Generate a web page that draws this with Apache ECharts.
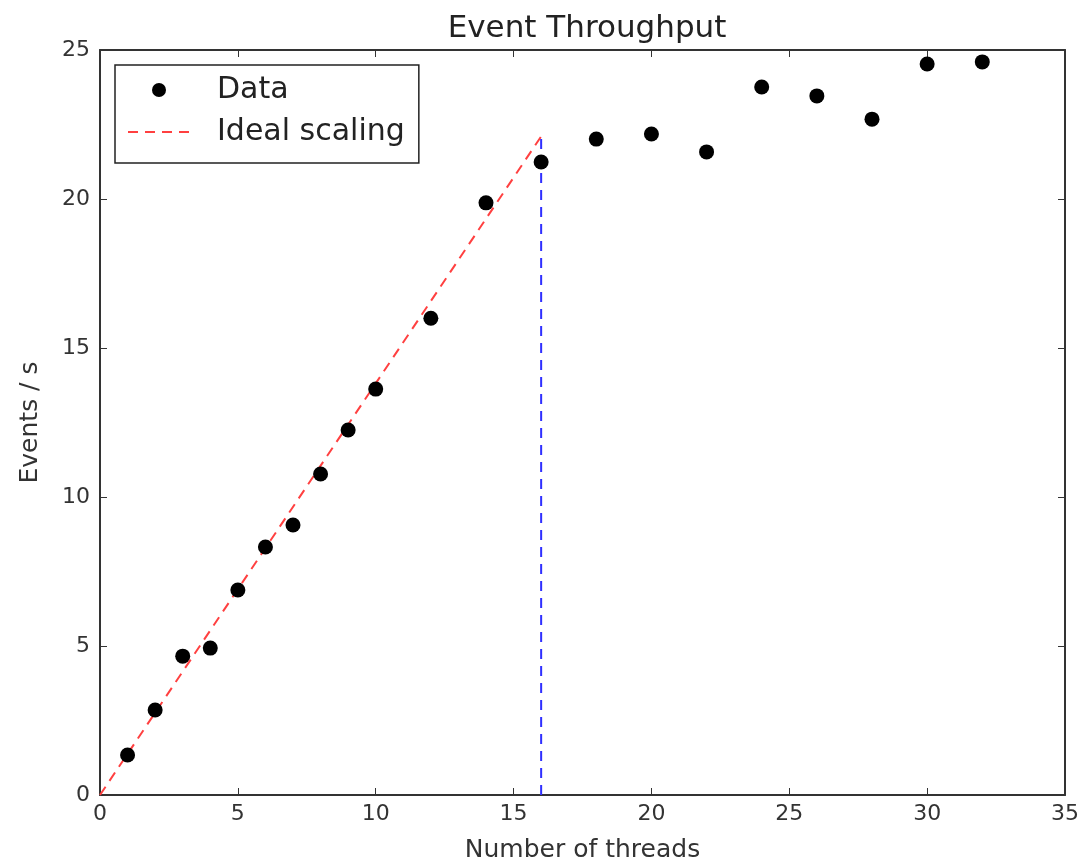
<!DOCTYPE html>
<html><head><meta charset="utf-8">
<script src="https://cdn.jsdelivr.net/npm/echarts@6/dist/echarts.min.js"></script>
<style>html,body{margin:0;padding:0;background:#fff}#c{width:1080px;height:863px}</style>
</head><body><div id="c"></div>
<script>
const threads = [1,2,3,4,5,6,7,8,9,10,12,14,16,18,20,22,24,26,28,30,32];
const eventsPerSec = [1.34,2.85,4.66,4.93,6.88,8.32,9.06,10.77,12.25,13.62,16.0,19.87,21.24,22.01,22.18,21.58,23.76,23.46,22.68,24.53,24.6];
const idealX = [0,16];
const idealY = [0,22.1];
const markerX = [16,16];
const markerY = [0,22.1];
const xTicks = [0,5,10,15,20,25,30,35];
const yTicks = [0,5,10,15,20,25];

const font = 'DejaVu Sans';
const chart = echarts.init(document.getElementById('c'));
const axisCommon = {
  axisLine:{show:true,onZero:false,lineStyle:{color:'#333',width:2}},
  axisTick:{show:true,inside:true,length:7,lineStyle:{color:'#333',width:1}},
  splitLine:{show:false}
};
chart.setOption({
  animation:false,
  backgroundColor:'#fff',
  title:{text:'Event Throughput',left:582,textAlign:'center',top:8,textStyle:{fontFamily:font,fontSize:31,fontWeight:'normal',color:'#222'}},
  grid:{left:100,right:15,top:50,bottom:68,outerBoundsMode:'none',containLabel:false},
  legend:{
    orient:'vertical',left:115,top:65,
    data:[{name:'Data',icon:'circle'},{name:'Ideal scaling',itemStyle:{opacity:0}}],
    itemWidth:62,itemHeight:14,itemGap:12,
    padding:[10,14,16,12],
    borderColor:'#222',borderWidth:1.5,borderRadius:0,
    textStyle:{fontFamily:font,fontSize:30,lineHeight:30,color:'#222',padding:[0,0,0,22]}
  },
  xAxis:[
    Object.assign({type:'value',min:0,max:35,interval:5,name:'Number of threads',nameLocation:'middle',nameGap:43,
      nameTextStyle:{fontFamily:font,fontSize:25,color:'#333'},
      axisLabel:{fontFamily:font,fontSize:22,color:'#333',margin:8}},axisCommon),
    Object.assign({type:'value',min:0,max:35,interval:5,position:'top',axisLabel:{show:false}},axisCommon)
  ],
  yAxis:[
    Object.assign({type:'value',min:0,max:25,interval:5,name:'Events / s',nameLocation:'middle',nameGap:57,
      nameTextStyle:{fontFamily:font,fontSize:25,color:'#333'},
      axisLabel:{fontFamily:font,fontSize:22,color:'#333',margin:10}},axisCommon),
    Object.assign({type:'value',min:0,max:25,interval:5,position:'right',axisLabel:{show:false}},axisCommon)
  ],
  series:[
    {name:'Ideal scaling',type:'line',xAxisIndex:0,yAxisIndex:0,symbol:'none',
     itemStyle:{color:'#ff4040'},
     lineStyle:{color:'#ff4040',width:2,type:[10,7]},
     data:idealX.map((x,i)=>[x,idealY[i]]),z:2},
    {name:'marker16',type:'line',xAxisIndex:0,yAxisIndex:0,symbol:'none',
     lineStyle:{color:'#2f2fff',width:2,type:[10,7]},
     data:markerX.map((x,i)=>[x,markerY[i]]),z:2},
    {name:'Data',type:'scatter',xAxisIndex:0,yAxisIndex:0,symbol:'circle',symbolSize:15,
     itemStyle:{color:'#000',opacity:1},
     data:threads.map((x,i)=>[x,eventsPerSec[i]]),z:3}
  ]
});
</script></body></html>
